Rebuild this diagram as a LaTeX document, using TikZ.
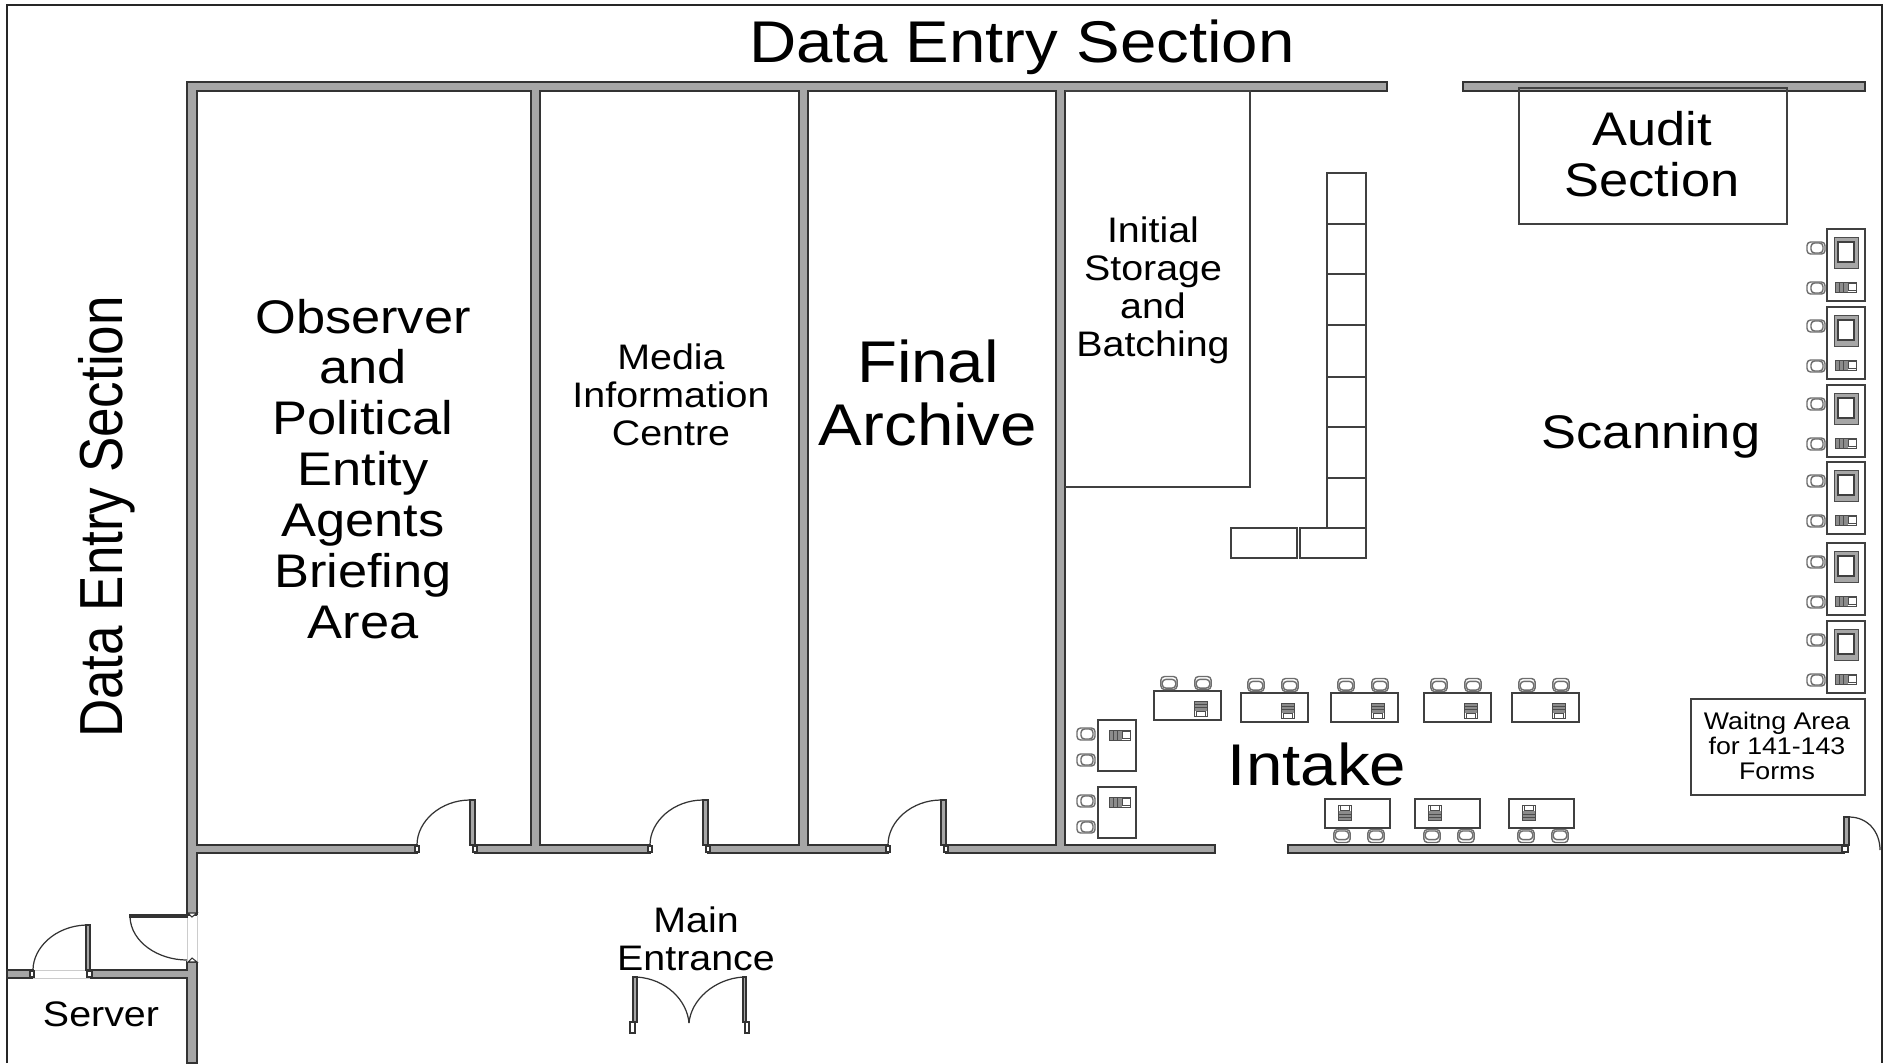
\documentclass[tikz,border=0pt]{standalone}
\usepackage{fontspec}
\setmainfont{Liberation Sans}

\definecolor{wallgray}{HTML}{A6A6A6}
\definecolor{chairgray}{HTML}{6E6E6E}

\tikzset{
  frameline/.style={draw=black!85,line width=0.35pt},
  wall/.style={draw=black!80,fill=wallgray,line width=0.4pt},
  leaf/.style={draw=black!80,fill=wallgray,line width=0.3pt},
  swing/.style={draw=black!80,line width=0.35pt},
  jamb/.style={draw=black!80,fill=white,line width=0.3pt},
  sill/.style={draw=black!20,line width=0.2pt},
  furniture/.style={draw=black!75,line width=0.4pt},
  chair/.style={draw=chairgray,fill=white,line width=0.4pt,rounded corners=1pt},
  devicepart/.style={draw=black!70,line width=0.25pt},
  backup/.style={rotate=-90,xscale=0.72,yscale=1.35},
  backdown/.style={rotate=90,xscale=0.72,yscale=1.35},
  flat/.style={yscale=0.9,transform shape},
  hugetext/.style={align=center,inner sep=0pt,flat,font=\fontsize{18.6}{19.9}\selectfont},
  bigtext/.style={align=center,inner sep=0pt,flat,font=\fontsize{14.9}{16.1}\selectfont},
  midtext/.style={align=center,inner sep=0pt,flat,font=\fontsize{11.2}{12}\selectfont},
  smalltext/.style={align=center,inner sep=0pt,flat,font=\fontsize{7.6}{7.9}\selectfont},
  sidetext/.style={inner sep=0pt,rotate=90,xscale=0.81,yscale=0.93,transform shape,font=\fontsize{18.6}{19.9}\selectfont}
}

\newcommand{\roomdoor}[1]{
\begin{scope}[shift={(#1,0)}]
\draw[leaf] (53,800) rectangle (58,845);
\draw[swing] (53,800) .. controls (24,800) and (0,821) .. (0,845);
\draw[jamb] (-2,846) rectangle (2,852);
\draw[jamb] (56,846) rectangle (60,852);
\end{scope}
}

\newcommand{\chairat}[3]{
\begin{scope}[shift={(#1,#2)},#3]
\draw[chair] (-9,-6) rectangle (9,6);
\draw[chair] (-5,-5) rectangle (7,5);
\end{scope}
}

\newcommand{\deviceat}[3]{
\begin{scope}[shift={(#1,#2)},#3]
\fill[black!45] (-10,-5) rectangle (3,5);
\draw[devicepart] (-10,-5) rectangle (11,5);
\draw[devicepart] (-6,-5) -- (-6,5);
\draw[devicepart] (-2,-5) -- (-2,5);
\draw[devicepart,fill=white] (3,-3.5) rectangle (11,3.5);
\end{scope}
}

\newcommand{\topdesk}[2]{
\begin{scope}[shift={(#1,#2)}]
\draw[furniture] (0,0) rectangle (67,29);
\chairat{15}{-8}{backup}
\chairat{49}{-8}{backup}
\deviceat{47}{18}{backup}
\end{scope}
}

\newcommand{\bottomdesk}[1]{
\begin{scope}[shift={(#1,799)}]
\draw[furniture] (0,0) rectangle (65,29);
\chairat{17}{37}{backdown}
\chairat{51}{37}{backdown}
\deviceat{20}{14}{backdown}
\end{scope}
}

\newcommand{\sidedesk}[1]{
\begin{scope}[shift={(1098,#1)}]
\draw[furniture] (0,0) rectangle (38,51);
\chairat{-12}{14}{rotate=0}
\chairat{-12}{40}{rotate=0}
\deviceat{21}{15}{rotate=0}
\end{scope}
}

\newcommand{\scanstation}[1]{
\begin{scope}[shift={(1827,#1)}]
\draw[furniture] (0,0) rectangle (38,72);
\chairat{-11}{19}{rotate=0}
\chairat{-11}{59}{rotate=0}
\draw[devicepart,fill=wallgray] (7,8) rectangle (31,39);
\draw[furniture,fill=white] (11,13) rectangle (27,33);
\deviceat{18}{58}{rotate=0}
\end{scope}
}

\begin{document}
\begin{tikzpicture}[x=0.01cm,y=-0.01cm]
\useasboundingbox (0,0) rectangle (1887,1063);

\draw[frameline] (7,1063) -- (7,5) -- (1882,5) -- (1882,1063);

\draw[wall] (187,82) -- (1387,82) -- (1387,91) -- (1065,91) -- (1065,845) -- (1215,845) -- (1215,853) -- (946,853) -- (946,845) -- (1056,845) -- (1056,91) -- (808,91) -- (808,845) -- (888,845) -- (888,853) -- (708,853) -- (708,845) -- (799,845) -- (799,91) -- (540,91) -- (540,845) -- (650,845) -- (650,853) -- (475,853) -- (475,845) -- (531,845) -- (531,91) -- (197,91) -- (197,845) -- (417,845) -- (417,853) -- (197,853) -- (197,915) -- (187,915) -- cycle;
\draw[wall] (187,962) -- (197,962) -- (197,1063) -- (187,1063) -- (187,978) -- (90,978) -- (90,970) -- (187,970) -- cycle;
\draw[wall] (7,970) rectangle (33,978);
\draw[wall] (1463,82) rectangle (1865,91);
\draw[wall] (1288,845) rectangle (1844,853);

\roomdoor{417}
\roomdoor{650}
\roomdoor{888}

\draw[leaf] (1844,817) rectangle (1849,845);
\draw[swing] (1849,817) .. controls (1868,817) and (1880,832) .. (1880,850);
\draw[jamb] (1842,846) rectangle (1848,852);

\draw[sill] (33,970) -- (90,970);
\draw[sill] (33,978) -- (90,978);
\draw[leaf] (86,925) rectangle (90,970);
\draw[swing] (86,925) .. controls (55,926) and (33,948) .. (33,970);
\draw[jamb] (30,971) rectangle (34,977);
\draw[jamb] (87,971) rectangle (92,977);

\draw[sill] (187,915) -- (187,962);
\draw[sill] (197,915) -- (197,962);
\draw[leaf] (130,915) rectangle (187,917);
\draw[swing] (130,917) .. controls (131,942) and (158,960) .. (187,960);
\draw[jamb] (188,913) -- (197,913) -- (192,917) -- cycle;
\draw[jamb] (188,962) -- (197,962) -- (192,958) -- cycle;

\draw[leaf] (633,977) rectangle (637,1022);
\draw[jamb] (630,1022) rectangle (635,1033);
\draw[swing] (637,977) .. controls (666,979) and (687,1000) .. (689,1023);
\draw[leaf] (743,977) rectangle (746,1022);
\draw[jamb] (745,1022) rectangle (749,1033);
\draw[swing] (743,977) .. controls (714,979) and (691,1000) .. (689,1023);

\draw[furniture] (1065,91) -- (1250,91) -- (1250,487) -- (1065,487);
\draw[furniture] (1519,88) rectangle (1787,224);
\draw[furniture] (1691,699) rectangle (1865,795);

\draw[furniture] (1327,173) rectangle (1366,224);
\draw[furniture] (1327,224) rectangle (1366,274);
\draw[furniture] (1327,274) rectangle (1366,325);
\draw[furniture] (1327,325) rectangle (1366,377);
\draw[furniture] (1327,377) rectangle (1366,427);
\draw[furniture] (1327,427) rectangle (1366,478);
\draw[furniture] (1327,478) rectangle (1366,528);
\draw[furniture] (1300,528) rectangle (1366,558);
\draw[furniture] (1231,528) rectangle (1297,558);

\scanstation{229}
\scanstation{307}
\scanstation{385}
\scanstation{462}
\scanstation{543}
\scanstation{621}

\topdesk{1154}{691}
\topdesk{1241}{693}
\topdesk{1331}{693}
\topdesk{1424}{693}
\topdesk{1512}{693}

\sidedesk{720}
\sidedesk{787}

\bottomdesk{1325}
\bottomdesk{1415}
\bottomdesk{1509}

\node[hugetext] (topsection) at (1022,47) {Data Entry Section};
\node[sidetext] (sidesection) at (107,517) {Data Entry Section};
\node[bigtext] (observer) at (363,469) {Observer\\and\\Political\\Entity\\Agents\\Briefing\\Area};
\node[midtext] (media) at (671,395) {Media\\Information\\Centre};
\node[hugetext] (archive) at (928,393) {Final\\Archive};
\node[midtext] (storage) at (1153,290) {Initial\\Storage\\and\\Batching};
\node[bigtext] (audit) at (1652,154) {Audit\\Section};
\node[bigtext] (scanning) at (1651,436) {Scanning};
\node[hugetext] (intake) at (1317,764) {Intake};
\node[smalltext] (waiting) at (1777,746) {Waitng Area\\for 141-143\\Forms};
\node[midtext] (entrance) at (696,939) {Main\\Entrance};
\node[midtext] (server) at (101,1014) {Server};

\end{tikzpicture}
\end{document}
